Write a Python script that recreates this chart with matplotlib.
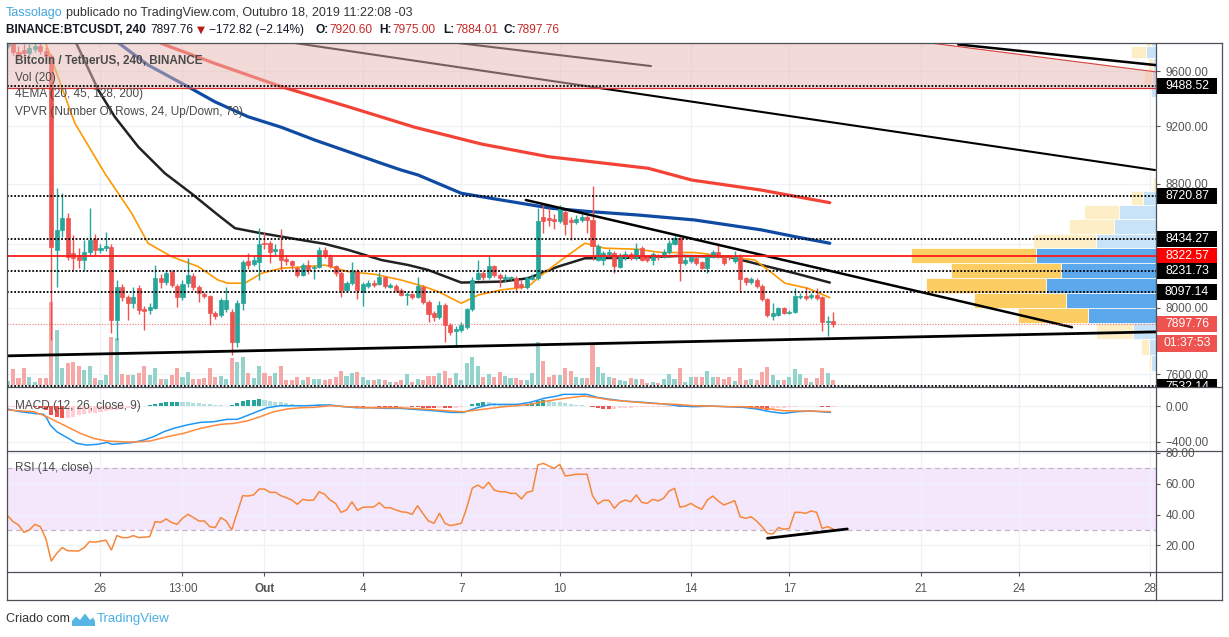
import matplotlib.pyplot as plt
import numpy as np
import matplotlib.ticker as mticker
from matplotlib.patches import Rectangle, Polygon
from matplotlib.lines import Line2D
from matplotlib.transforms import blended_transform_factory, Bbox, TransformedBbox

plt.rcParams['font.family'] = ['Liberation Sans', 'DejaVu Sans']

W, H = 1229, 637

# ---------------- dados (velas de 4h, índice -1 .. 150) ----------------
opens = [9790, 9830, 9745, 9760, 9735, 9765, 9790, 9750, 9710, 8364,
         8494, 8570, 8345, 8330, 8300, 8353, 8436, 8364, 8375, 8384,
         7925, 8130, 8068, 8029, 8120, 7990, 7986, 8000, 8183, 8162,
         8220, 8136, 8068, 8152, 8198, 8130, 8083, 8072, 7970, 7955,
         7990, 7975, 7792, 8031, 8290, 8275, 8286, 8410, 8407, 8358,
         8368, 8305, 8295, 8248, 8205, 8267, 8247, 8257, 8364, 8321,
         8261, 8219, 8111, 8152, 8230, 8099, 8136, 8156, 8148, 8190,
         8130, 8136, 8111, 8080, 8083, 8068, 8130, 8036, 7966, 7945,
         8017, 7895, 7860, 7862, 7880, 7990, 8180, 8215, 8192, 8261,
         8204, 8180, 8182, 8183, 8150, 8127, 8180, 8183, 8580, 8575,
         8565, 8551, 8615, 8558, 8549, 8560, 8577, 8560, 8300, 8300,
         8340, 8347, 8257, 8321, 8340, 8315, 8375, 8321, 8300, 8332,
         8321, 8351, 8403, 8439, 8283, 8290, 8310, 8286, 8250, 8321,
         8351, 8318, 8325, 8290, 8321, 8183, 8162, 8173, 8136, 8052,
         7949, 7955, 7995, 7970, 7975, 8068, 8074, 8066, 8078, 8068,
         7914, 7920.60]
highs = [9850, 9870, 9790, 9800, 9800, 9810, 9815, 9780, 9730, 8770,
         8737, 8604, 8463, 8377, 8431, 8637, 8470, 8400, 8480, 8400,
         8173, 8150, 8080, 8130, 8140, 8010, 8030, 8267, 8210, 8236,
         8235, 8150, 8170, 8310, 8215, 8140, 8095, 8080, 7980, 8060,
         8130, 7990, 8050, 8300, 8345, 8330, 8505, 8480, 8420, 8400,
         8500, 8330, 8300, 8260, 8280, 8300, 8270, 8380, 8384, 8340,
         8270, 8230, 8165, 8286, 8240, 8160, 8170, 8170, 8225, 8200,
         8155, 8145, 8120, 8095, 8090, 8192, 8140, 8050, 7980, 8040,
         8030, 7905, 7890, 7910, 8000, 8190, 8300, 8230, 8325, 8270,
         8215, 8210, 8200, 8195, 8170, 8200, 8210, 8640, 8667, 8640,
         8600, 8660, 8640, 8580, 8590, 8600, 8590, 8784, 8400, 8360,
         8370, 8360, 8345, 8355, 8350, 8407, 8390, 8330, 8350, 8340,
         8370, 8430, 8460, 8450, 8320, 8330, 8320, 8295, 8340, 8365,
         8407, 8325, 8330, 8360, 8335, 8190, 8190, 8185, 8145, 8060,
         8027, 8005, 8005, 7985, 8120, 8090, 8127, 8090, 8120, 8075,
         7949, 7975.00]
lows = [9770, 9720, 9700, 9690, 9720, 9740, 9730, 9680, 7805, 8130,
        8450, 8300, 8236, 8248, 8236, 8332, 8330, 8345, 8360, 7843,
        7805, 8040, 7925, 8000, 7960, 7865, 7960, 7990, 8120, 8140,
        8130, 8006, 8050, 8130, 8110, 8037, 8060, 7895, 7930, 7945,
        7975, 7716, 7760, 7986, 8240, 8260, 8173, 8370, 8280, 8330,
        8236, 8270, 8240, 8190, 8195, 8210, 8180, 8250, 8310, 8250,
        8200, 8068, 8100, 8140, 8052, 8011, 8120, 8130, 8140, 8125,
        8120, 8100, 8070, 8017, 8055, 8060, 8020, 7914, 7920, 7930,
        7793, 7835, 7760, 7850, 7870, 7980, 8170, 8170, 8180, 8190,
        8130, 8160, 8170, 8099, 8115, 8115, 8170, 8170, 8475, 8520,
        8500, 8540, 8463, 8431, 8530, 8545, 8475, 8300, 8290, 8266,
        8320, 8219, 8250, 8300, 8300, 8300, 8290, 8285, 8270, 8300,
        8310, 8340, 8395, 8168, 8270, 8280, 8270, 8240, 8215, 8310,
        8310, 8270, 8300, 8280, 8099, 8140, 8150, 8125, 8040, 7940,
        7925, 7950, 7960, 7960, 7965, 8055, 8050, 8055, 8050, 7860,
        7826, 7884.01]
closes = [9810, 9745, 9725, 9735, 9775, 9785, 9750, 9710, 8380, 8494,
          8570, 8321, 8313, 8300, 8353, 8431, 8364, 8375, 8390, 7925,
          8130, 8068, 8029, 8068, 7986, 7980, 8006, 8183, 8162, 8215,
          8142, 8068, 8148, 8204, 8130, 8090, 8072, 7970, 7949, 8045,
          8048, 7792, 8031, 8286, 8267, 8300, 8403, 8403, 8353, 8368,
          8300, 8290, 8267, 8205, 8267, 8236, 8257, 8364, 8325, 8261,
          8219, 8111, 8152, 8230, 8111, 8148, 8156, 8142, 8190, 8136,
          8142, 8111, 8080, 8086, 8065, 8136, 8036, 7962, 7945, 8017,
          7895, 7853, 7868, 7895, 7990, 8173, 8215, 8190, 8261, 8204,
          8183, 8190, 8190, 8127, 8127, 8183, 8192, 8551, 8555, 8560,
          8551, 8648, 8532, 8545, 8564, 8577, 8560, 8390, 8390, 8347,
          8351, 8261, 8332, 8340, 8310, 8370, 8300, 8300, 8340, 8318,
          8351, 8407, 8439, 8280, 8300, 8316, 8283, 8250, 8325, 8351,
          8318, 8280, 8318, 8325, 8178, 8162, 8178, 8136, 8052, 7955,
          7966, 7995, 7968, 7975, 8074, 8074, 8060, 8078, 8060, 7914,
          7920, 7897.76]
volume = [4, 16, 7, 17, 8, 3, 7, 7, 83, 55,
          17, 22, 23, 19, 15, 19, 7, 5, 10, 48,
          47, 11, 10, 10, 12, 19, 10, 17, 6, 6,
          10, 17, 8, 13, 6, 6, 7, 17, 8, 9,
          6, 27, 23, 28, 12, 7, 19, 12, 9, 12,
          19, 5, 5, 8, 5, 8, 6, 6, 5, 6,
          8, 14, 9, 12, 13, 8, 5, 5, 6, 5,
          3, 3, 5, 11, 3, 6, 5, 9, 9, 12,
          14, 7, 12, 5, 22, 28, 19, 8, 11, 8,
          13, 9, 7, 7, 5, 5, 12, 43, 24, 8,
          10, 10, 17, 14, 8, 7, 7, 40, 18, 12,
          8, 7, 5, 4, 7, 6, 6, 2, 3, 2,
          6, 11, 6, 17, 3, 8, 8, 8, 14, 8,
          8, 6, 8, 4, 17, 5, 6, 5, 13, 18,
          10, 5, 5, 8, 16, 11, 7, 3, 7, 17,
          12, 5]
macd_hist = [-5, -5, -5, -5, -5, -10, -15, -40, -100, -125,
             -135, -130, -115, -100, -90, -80, -70, -60, -50, -45,
             -40, -30, -20, -12, -5, 10, 20, 30, 40, 45,
             50, 55, 50, 45, 40, 35, 30, 25, 20, 15,
             10, 20, 40, 60, 70, 75, 80, 75, 65, 55,
             45, 35, 28, 20, 15, 12, 15, 20, 18, 12,
             8, 4, 2, 0, -2, -4, -3, -2, -4, -8,
             -10, -12, -10, -8, -10, -12, -15, -18, -20, -18,
             -20, -22, -18, -10, 5, 25, 40, 50, 45, 38,
             30, 25, 20, 18, 15, 20, 40, 60, 70, 68,
             55, 45, 35, 25, 18, 12, 5, -10, -20, -25,
             -28, -26, -22, -18, -15, -12, -10, -8, -6, -5,
             -4, -2, 0, -3, -5, -6, -5, -4, -3, -2,
             -2, -3, -5, -8, -15, -20, -25, -28, -32, -35,
             -28, -20, -15, -10, -5, 2, 5, 10, 4, -2,
             -4, -3]
rsi = [39.3, 35.4, 33.2, 28.4, 30.0, 33.6, 32.1, 24.5, 9.8, 14.8,
       18.5, 16.5, 16.4, 16.3, 18.5, 22.4, 22.0, 22.7, 23.3, 17.0,
       26.3, 25.0, 25.0, 26.3, 25.0, 25.3, 25.6, 35.4, 34.9, 37.1,
       34.9, 33.6, 37.5, 40.1, 38.0, 35.8, 35.8, 32.1, 31.5, 38.0,
       35.8, 30.0, 41.0, 52.2, 52.0, 52.7, 56.5, 56.5, 54.4, 54.4,
       52.2, 50.9, 49.4, 46.6, 49.8, 49.2, 49.4, 54.8, 53.1, 49.4,
       47.2, 41.4, 42.9, 48.3, 42.7, 44.7, 44.8, 44.9, 47.7, 44.4,
       44.4, 43.0, 41.8, 41.4, 40.1, 45.7, 40.5, 35.8, 34.3, 40.8,
       34.3, 32.8, 33.5, 34.3, 44.4, 57.0, 59.1, 57.0, 60.9, 55.9,
       54.8, 54.8, 53.7, 53.7, 50.1, 54.4, 55.2, 72.1, 73.2, 71.5,
       70.0, 72.5, 65.0, 65.5, 66.1, 66.1, 66.1, 52.2, 46.8, 49.2,
       49.2, 44.0, 47.9, 49.4, 48.3, 52.7, 47.9, 47.2, 49.8, 48.8,
       50.5, 55.2, 57.0, 44.7, 45.5, 47.2, 45.0, 43.4, 49.4, 52.0,
       48.8, 46.2, 47.5, 49.0, 38.6, 37.5, 38.6, 35.8, 32.1, 27.8,
       27.4, 31.5, 30.4, 31.0, 41.4, 41.4, 40.8, 42.3, 41.4, 31.0,
       32.1, 30.6]

# linhas MACD / sinal (índice da vela, valor)
macd_idx = [-1, 1.3, 3.8, 5.6, 6.2, 6.8, 8.0, 9.9, 11.7, 13.5, 15.4, 17.2, 18.1, 20.2, 22.1,
            23.9, 25.7, 27.6, 29.4, 31.8, 34.3, 36.7, 39.1, 41.0, 42.8, 44.6, 46.5, 48.9,
            51.4, 53.8, 56.2, 58.0, 60.5, 62.9, 65.4, 68.4, 70.8, 72.7, 75.1, 77.6, 80.0,
            82.4, 84.9, 87.3, 89.8, 92.2, 94.6, 97.1, 99.5, 100.7, 105.0, 106.8, 109.3,
            111.7, 115.4, 119.0, 121.5, 124.5, 127.6, 130.6, 133.7, 136.1, 138.5, 141.0,
            143.4, 145.8, 149.5]
macd_val = [-30, -60, -79, -90, -136, -211, -287, -355, -420, -439, -431, -408, -431, -420,
            -408, -382, -344, -287, -249, -211, -181, -174, -147, -147, -105, -60, -15, 8,
            8, 8, 16, 16, -3, -15, -15, -22, -22, -30, -41, -52, -68, -68, -15, 23, 23, 23,
            46, 91, 118, 137, 137, 103, 80, 61, 46, 27, 8, -3, 4, -3, -11, -30, -60, -79,
            -60, -52, -68]
signal_idx = [-1, 3.8, 6.2, 7.4, 9.9, 12.3, 14.7, 17.2, 19.6, 22.1, 25.1, 28.2, 31.2, 34.3,
              37.9, 40.4, 42.8, 45.2, 47.7, 50.1, 52.6, 55.0, 58.0, 61.1, 64.8, 68.4, 70.8,
              72.7, 75.1, 77.6, 80.0, 82.4, 84.9, 87.3, 89.8, 92.2, 94.6, 97.1, 99.5, 101.9,
              104.4, 106.8, 109.3, 112.9, 116.6, 121.5, 124.5, 127.6, 130.6, 133.7, 136.1,
              138.5, 141.0, 143.4, 145.8, 149.5]
signal_val = [-41, -60, -117, -155, -230, -306, -363, -393, -401, -405, -393, -344, -306,
              -249, -204, -193, -166, -117, -60, -30, -15, -11, 8, -3, -15, -15, -15, -22,
              -30, -41, -52, -60, -41, -22, -3, 8, 23, 54, 80, 99, 118, 99, 73, 54, 35, 23,
              8, 4, -3, -3, -15, -30, -49, -52, -52, -60]

# médias móveis exponenciais (índice da vela, preço)
ema20_idx = [4.5, 5.8, 11.3, 16.8, 21.7, 24.7, 29.0, 33.9, 37.5, 39.3, 42.4, 45.5, 49.1, 54.0,
             57.0, 61.3, 66.2, 71.0, 75.3, 77.8, 82.0, 85.1, 89.3, 94.2, 96.7, 100.3, 104.6,
             108.2, 114.3, 118.6, 124.7, 130.8, 135.7, 138.1, 141.2, 145.4, 149.4]
ema20_val = [9880, 9832, 9223, 8872, 8604, 8407, 8321, 8257, 8172, 8152, 8152, 8215, 8247,
             8257, 8267, 8225, 8208, 8172, 8130, 8099, 8027, 8078, 8110, 8130, 8204, 8299,
             8407, 8375, 8368, 8347, 8347, 8321, 8299, 8236, 8152, 8120, 8062]
ema45_idx = [10.0, 11.3, 15.6, 18.6, 22.9, 27.8, 32.6, 37.5, 40.6, 44.8, 50.9, 57.0, 61.3,
             67.4, 72.3, 75.9, 82.0, 89.3, 94.2, 99.7, 104.6, 114.3, 121.7, 130.8, 136.9,
             143.0, 149.4]
ema45_val = [9950, 9832, 9461, 9268, 9056, 8872, 8737, 8592, 8505, 8476, 8439, 8403, 8364,
             8299, 8267, 8236, 8156, 8162, 8183, 8257, 8310, 8314, 8325, 8321, 8267, 8215,
             8156]
ema128_idx = [16.0, 18.6, 24.7, 32.0, 36.9, 43.0, 49.1, 55.2, 61.3, 67.4, 71.0, 74.1, 82.0,
              89.3, 98.4, 105.7, 114.3, 124.7, 136.9, 143.0, 149.4]
ema128_val = [9920, 9832, 9645, 9485, 9376, 9268, 9193, 9103, 9022, 8941, 8895, 8861, 8737,
              8692, 8637, 8614, 8592, 8559, 8494, 8450, 8407]
ema200_idx = [24.0, 27.1, 36.9, 49.1, 61.3, 73.5, 85.7, 97.9, 116.2, 124.1, 136.8, 149.4]
ema200_val = [9880, 9807, 9657, 9485, 9340, 9193, 9075, 8987, 8907, 8827, 8759, 8674]

# perfil de volume (VPVR, 24 linhas): limites de preço, volume de alta / baixa
vp_edges = [7620, 7714, 7809, 7903, 7997, 8092, 8186, 8280, 8374, 8469, 8563, 8657, 8752,
            8846, 8940, 9035, 9129, 9223, 9318, 9412, 9506, 9600, 9695, 9789, 9883]
vp_up = [5, 7, 23, 68, 90, 110, 95, 120, 60, 42, 37, 13, 0, 0, 0, 0, 0, 0, 0, 5, 4, 3, 10, 5]
vp_down = [2, 8, 37, 70, 92, 120, 110, 125, 63, 45, 35, 12, 3, 0, 0, 0, 0, 0, 0, 0, 8, 5, 15, 5]
vp_value_area = [3, 4, 5, 6, 7]

# níveis horizontais e desenhos
levels_dotted = [9488.52, 8720.87, 8434.27, 8231.73, 8097.14, 7532.14]
level_red = 8322.57
last_price = 7897.76
zone_floor = 9473
zone_edge = [(167.8, 9810), (209.1, 9594)]
trendlines = [
    ([50.7, 208.9], [9815, 8895], 1.5),
    ([80.4, 116.7], [9815, 9637], 1.5),
    ([172.9, 209.1], [9799, 9644], 1.8),
    ([-1.1, 209.1], [7708, 7852], 2.0),
    ([93.8, 193.7], [8692, 7880], 1.8),
]
rsi_trend = ([138.0, 152.6], [24.6, 30.6])

price_ticks = [9600, 9200, 8800, 8400, 8000, 7600]
date_idx = [16, 31, 46, 64, 82, 100, 124, 142, 166, 184, 208]
date_lbl = ['26', '13:00', 'Out', '4', '7', '10', '14', '17', '21', '24', '28']

GREEN, RED = '#26a69a', '#ef5350'
GRID = '#eef1f5'
FRAME = '#4e5058'
AXTXT = '#555555'

# ---------------- figura ----------------
fig = plt.figure(figsize=(W / 100, H / 100), dpi=100)
fig.patch.set_facecolor('white')


def px_rect(x0, y0, x1, y1):
    return [x0 / W, 1 - y1 / H, (x1 - x0) / W, (y1 - y0) / H]


PL, PR, PT = 7, 1156, 43
Y_MAIN, Y_MACD, Y_RSI, Y_AX = 386.7, 450.7, 572.3, 600
ax = fig.add_axes(px_rect(PL, PT, PR, Y_MAIN))
ax_macd = fig.add_axes(px_rect(PL, Y_MAIN, PR, Y_MACD), sharex=ax)
ax_rsi = fig.add_axes(px_rect(PL, Y_MACD, PR, Y_RSI), sharex=ax)

for a in (ax, ax_macd, ax_rsi):
    for s in a.spines.values():
        s.set_visible(False)
    a.set_axisbelow(True)
    a.grid(True, color=GRID, lw=0.9)
    a.yaxis.tick_right()
    a.tick_params(axis='y', which='both', length=3, color=AXTXT, labelsize=8.5,
                  labelcolor=AXTXT, pad=4, width=0.8)
    a.tick_params(axis='x', length=0, labelbottom=False)

idx = np.arange(len(closes)) - 1
o = np.array(opens)
c = np.array(closes)
up = c >= o
cols = np.where(up, GREEN, RED)

# volume na base do painel principal
pane_h = Y_MAIN - PT
ax.bar(idx, np.array(volume) / pane_h, bottom=1.7 / pane_h, width=0.74,
       color=np.where(up, '#93d3cc', '#f6a8a6'), transform=ax.get_xaxis_transform(), zorder=1)

# VPVR ancorado à direita
pw = PR - PL
vp_tr = blended_transform_factory(ax.transAxes, ax.transData)
edges = np.array(vp_edges)
for k in range(len(vp_up)):
    solid = k in vp_value_area
    cu = '#5ba8ec' if solid else '#c8e2f8'
    cd = '#fccd63' if solid else '#fdeec6'
    hgt = edges[k + 1] - edges[k]
    if vp_up[k]:
        ax.barh(edges[k], vp_up[k] / pw, height=hgt, left=1 - vp_up[k] / pw, align='edge',
                color=cu, edgecolor='white', lw=0.5, transform=vp_tr, zorder=1.5)
    if vp_down[k]:
        ax.barh(edges[k], vp_down[k] / pw, height=hgt, left=1 - (vp_up[k] + vp_down[k]) / pw,
                align='edge', color=cd, edgecolor='white', lw=0.5, transform=vp_tr, zorder=1.5)

# médias
ax.plot(ema200_idx, ema200_val, color='#f44336', lw=2.3, zorder=2, solid_capstyle='round')
ax.plot(ema128_idx, ema128_val, color='#0f4aa3', lw=2.3, zorder=2, solid_capstyle='round')
ax.plot(ema45_idx, ema45_val, color='#222222', lw=1.8, zorder=2, solid_capstyle='round')
ax.plot(ema20_idx, ema20_val, color='#ff9800', lw=1.2, zorder=2, solid_capstyle='round')

# velas
ax.vlines(idx, lows, highs, colors=cols, lw=1, zorder=3)
ax.bar(idx, np.abs(c - o), bottom=np.minimum(o, c), width=0.74, color=cols, edgecolor=cols,
       lw=0.5, zorder=3)

# linhas de tendência
for xs, ys, lw in trendlines:
    ax.plot(xs, ys, color='black', lw=lw, zorder=3.5, solid_capstyle='round')

# zona rosa superior
zone = Polygon([(-2, zone_floor), (zone_edge[1][0], zone_floor), zone_edge[1], zone_edge[0],
                (zone_edge[0][0], 12000), (-2, 12000)], closed=True,
               facecolor=(230 / 255, 184 / 255, 180 / 255), alpha=0.52, edgecolor='none', zorder=4)
ax.add_patch(zone)
ax.plot([p[0] for p in zone_edge], [p[1] for p in zone_edge], color='#d84040', lw=0.8, zorder=4.5)
ax.axhline(zone_floor, color='#d32f2f', lw=0.9, zorder=4.5)

for lv in levels_dotted:
    ax.axhline(lv, color='black', lw=1.3, ls=(0, (1, 1)), zorder=5)
ax.axhline(level_red, color='#ff1a1a', lw=1.3, zorder=5)
ax.axhline(last_price, color=RED, lw=0.8, ls=(0, (1, 1.5)), alpha=0.8, zorder=5)

ax.set_yscale('log')
ax.set_xlim(-1.1, 209.07)
ax.set_ylim(7527, 9810)
ax.yaxis.set_major_locator(mticker.FixedLocator(price_ticks))
ax.yaxis.set_minor_locator(mticker.NullLocator())
# 8400 fica escondido atrás da etiqueta 8434.27, como no original
ax.yaxis.set_major_formatter(mticker.FuncFormatter(lambda v, p: '' if v == 8400 else f'{v:.2f}'))
ax.set_xticks(date_idx)

# MACD
hcols = []
for k, hv in enumerate(macd_hist):
    prev = macd_hist[k - 1] if k else hv
    if hv >= 0:
        hcols.append('#26a69a' if hv >= prev else '#b2dfdb')
    else:
        hcols.append('#ef5350' if hv < prev else '#ffcdd2')
ax_macd.bar(idx, macd_hist, width=0.74, color=hcols, zorder=2)
ax_macd.plot(macd_idx, macd_val, color='#2196f3', lw=1.1, zorder=3)
ax_macd.plot(signal_idx, signal_val, color='#ff8a3d', lw=1.1, zorder=3)
ax_macd.set_ylim(-503, 224)
ax_macd.set_yticks([0, -400])
ax_macd.yaxis.set_major_formatter(mticker.FuncFormatter(lambda v, p: f'{v:.2f}'.replace('-', '\u2212')))

# RSI
ax_rsi.axhspan(30, 70, color='#f4e7fc', zorder=0, lw=0)
ax_rsi.axhline(70, color='#c4b3c9', lw=0.9, ls=(0, (4, 3)), zorder=1)
ax_rsi.axhline(30, color='#c4b3c9', lw=0.9, ls=(0, (4, 3)), zorder=1)
ax_rsi.plot(idx, rsi, color='#f7873a', lw=1.1, zorder=3)
ax_rsi.plot(rsi_trend[0], rsi_trend[1], color='black', lw=2, zorder=4, solid_capstyle='round')
ax_rsi.set_ylim(2.5, 81.4)
ax_rsi.set_yticks([80, 60, 40, 20])
ax_rsi.yaxis.set_major_formatter(mticker.FuncFormatter(lambda v, p: f'{v:.2f}'))
ax_rsi.set_xticks(date_idx)
ax_rsi.set_xticklabels(date_lbl)
ax_rsi.tick_params(axis='x', length=3, color=AXTXT, labelsize=8.5, labelcolor=AXTXT,
                   pad=5, labelbottom=True, width=0.8)
ax_rsi.get_xticklabels()[2].set_fontweight('bold')

# molduras
def fig_line(x0, y0, x1, y1, color=FRAME, lw=0.9):
    fig.add_artist(Line2D([x0 / W, x1 / W], [1 - y0 / H, 1 - y1 / H], color=color, lw=lw,
                          transform=fig.transFigure, zorder=30))

fig_line(PL, PT, 1222, PT)
fig_line(PL, Y_AX, 1222, Y_AX)
fig_line(PL, PT, PL, Y_AX)
fig_line(1222, PT, 1222, Y_AX)
fig_line(PR, PT, PR, Y_AX)
for yy in (Y_MAIN, Y_MACD, Y_RSI):
    fig_line(PL, yy, 1222, yy)

# etiquetas de preço no eixo
to_fig = fig.transFigure.inverted()


def price_y(p):
    return to_fig.transform(ax.transData.transform((0, p)))[1]


clip = TransformedBbox(Bbox.from_extents(PR / W, 1 - Y_MAIN / H, 1, 1 - PT / H), fig.transFigure)
tags = [(9488.52, '9488.52', 'black'), (8720.87, '8720.87', 'black'),
        (8434.27, '8434.27', 'black'), (8322.57, '8322.57', '#ff0000'),
        (8231.73, '8231.73', 'black'), (8097.14, '8097.14', 'black'),
        (7897.76, '7897.76', '#ef5350'), (7532.14, '7532.14', 'black')]
for p, txt, bg in tags:
    yc = price_y(p) - (1.0 / H if p == 7532.14 else 0)
    r = Rectangle((PR / W + 0.5 / W, yc - 8 / H), 60.5 / W, 16 / H, transform=fig.transFigure,
                  facecolor=bg, edgecolor='none', zorder=20)
    fig.add_artist(r)
    r.set_clip_box(clip)
    t = fig.text(1187 / W, yc, txt, color='white', ha='center', va='center', fontsize=8.8,
                 zorder=21)
    t.set_clip_box(clip)
    t.set_clip_on(True)
yt = price_y(last_price) - 18.7 / H
fig.add_artist(Rectangle((PR / W + 0.5 / W, yt - 8.5 / H), 60.5 / W, 17 / H,
                         transform=fig.transFigure, facecolor='#ef5350', edgecolor='none',
                         zorder=20))
fig.text(1187 / W, yt, '01:37:53', color='white', ha='center', va='center', fontsize=8.8,
         zorder=21)

# legendas dos painéis
def ftxt(x, y, s, **kw):
    kw.setdefault('fontsize', 8.5)
    kw.setdefault('color', '#4a4a4a')
    return fig.text(x / W, 1 - y / H, s, va='center', ha='left', zorder=25, **kw)

ftxt(15, 60.7, 'Bitcoin / TetherUS, 240, BINANCE', fontweight='bold')
ftxt(15, 77.7, 'Vol (20)')
ftxt(15, 94.3, '4EMA (20, 45, 128, 200)')
ftxt(15, 111.7, 'VPVR (Number Of Rows, 24, Up/Down, 70)')
ftxt(15, 405.7, 'MACD (12, 26, close, 9)')
ftxt(15, 467.7, 'RSI (14, close)')

# cabeçalho
ftxt(6, 12.7, 'Tassolago', color='#43a6de', fontsize=9)
ftxt(66, 12.7, 'publicado no TradingView.com, Outubro 18, 2019 11:22:08 -03', color='#333333',
     fontsize=9)

renderer = fig.canvas.get_renderer()
xcur = 0
head = [(6, 'BINANCE:BTCUSDT, 240', dict(color='#131722', fontweight='bold')),
        (150, '7897.76', dict(color='#131722')),
        (197, '\u25BC', dict(color='#b71c1c', fontsize=7.5, family=['DejaVu Sans'])),
        (209, '\u2212172.82 (\u22122.14%)', dict(color='#131722')),
        (315, 'O:', dict(color='#131722', fontweight='bold')),
        (328, '7920.60', dict(color='#c62828')),
        (379, 'H:', dict(color='#131722', fontweight='bold')),
        (392, '7975.00', dict(color='#c62828')),
        (443, 'L:', dict(color='#131722', fontweight='bold')),
        (455, '7884.01', dict(color='#c62828')),
        (503, 'C:', dict(color='#131722', fontweight='bold')),
        (516, '7897.76', dict(color='#c62828'))]
for xa, s, kw in head:
    kw.setdefault('fontsize', 8.6)
    t = ftxt(max(xa, xcur + 1), 30, s, **kw)
    xcur = t.get_window_extent(renderer=renderer).x1

# rodapé
ftxt(6, 619, 'Criado com', color='#333333', fontsize=9)
logo = [(72, 626), (72, 621), (76, 616.5), (80, 620), (85, 613.5), (90, 620), (93, 617.5),
        (95, 621), (95, 626)]
fig.add_artist(Polygon([(x / W, 1 - y / H) for x, y in logo], closed=True,
                       transform=fig.transFigure, facecolor='#55b6e6', edgecolor='none'))
ftxt(97, 619, 'TradingView', color='#49aee3', fontsize=9.5)

fig.savefig('out.png', dpi=100)
